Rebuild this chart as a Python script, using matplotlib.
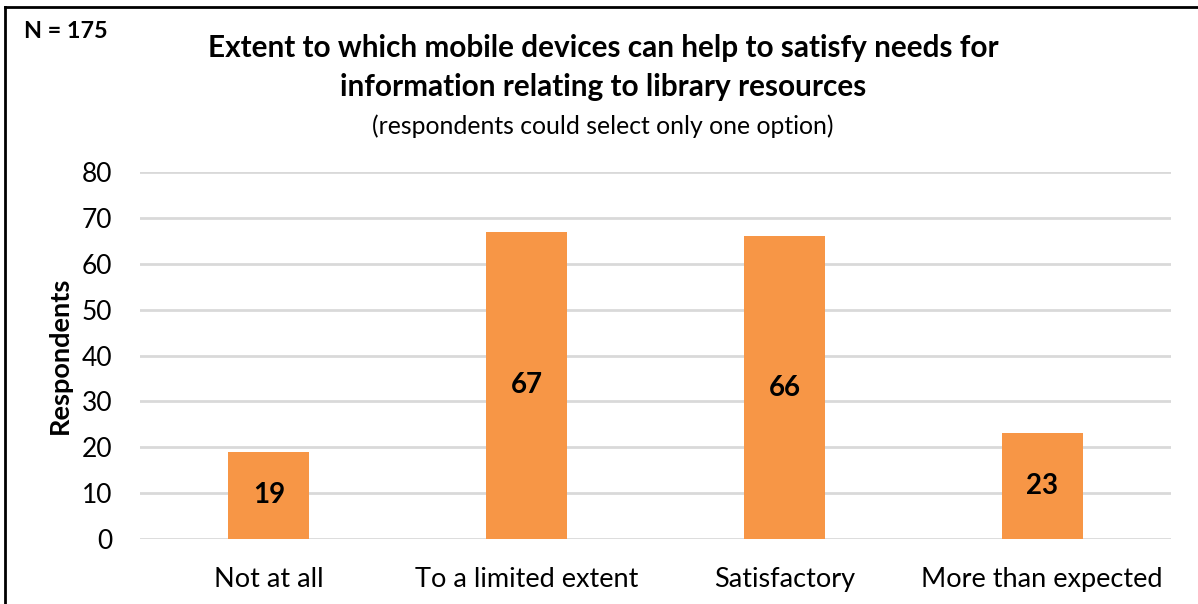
import matplotlib
matplotlib.use("Agg")
import matplotlib.pyplot as plt
from matplotlib.lines import Line2D

categories = ["Not at all", "To a limited extent", "Satisfactory", "More than expected"]
respondents = [19, 67, 66, 23]
y_ticks = [0, 10, 20, 30, 40, 50, 60, 70, 80]

title_line1 = "Extent to which mobile devices can help to satisfy needs for"
title_line2 = "information relating to library resources"
subtitle = "(respondents could select only one option)"
sample_note = "N = 175"

plt.rcParams["font.family"] = ["Lato", "DejaVu Sans"]

W, H = 1198, 604
fig = plt.figure(figsize=(W / 100, H / 100), dpi=100)
fig.patch.set_facecolor("white")

ax = fig.add_axes([140 / W, 1 - 539 / H, (1171 - 140) / W, (539 - 172) / H])

bar_color = "#F79646"
x = range(len(categories))
bars = ax.bar(x, respondents, width=0.315, color=bar_color, zorder=3)

for rect, v in zip(bars, respondents):
    ax.text(rect.get_x() + rect.get_width() / 2, v / 2, str(v),
            ha="center", va="center", fontsize=20, fontweight="bold",
            color="black", zorder=4)

ax.set_xlim(-0.5, len(categories) - 0.5)
ax.set_ylim(0, 80)
ax.set_yticks(y_ticks)
ax.set_xticks(list(x))
ax.set_xticklabels(categories)
ax.tick_params(axis="y", length=0, labelsize=19, colors="black", pad=20)
ax.tick_params(axis="x", length=0, labelsize=19.5, colors="black", pad=20)

ax.yaxis.grid(True, color="#D9D9D9", linewidth=2, zorder=0)
ax.xaxis.grid(False)
for s in ax.spines.values():
    s.set_visible(False)

ax.set_ylabel("Respondents", fontsize=19.5, fontweight="bold")
ax.yaxis.set_label_coords(-68 / (1171 - 140), 0.5)

fig.text(603 / W, 1 - 48 / H, title_line1, ha="center", va="center",
         fontsize=21.4, fontweight="bold")
fig.text(603 / W, 1 - 87 / H, title_line2, ha="center", va="center",
         fontsize=21.4, fontweight="bold")
fig.text(603 / W, 1 - 126 / H, subtitle, ha="center", va="center", fontsize=17.8)
fig.text(24 / W, 1 - 31 / H, sample_note, ha="left", va="center",
         fontsize=16.8, fontweight="bold")

# frame: top and left edges of the chart border
fig.add_artist(Line2D([5 / W, 5 / W], [0, 1 - 7 / H], transform=fig.transFigure,
                      color="black", linewidth=2))
fig.add_artist(Line2D([5 / W, 1], [1 - 7 / H, 1 - 7 / H], transform=fig.transFigure,
                      color="black", linewidth=2))

fig.savefig("out.png", dpi=100, facecolor="white")
